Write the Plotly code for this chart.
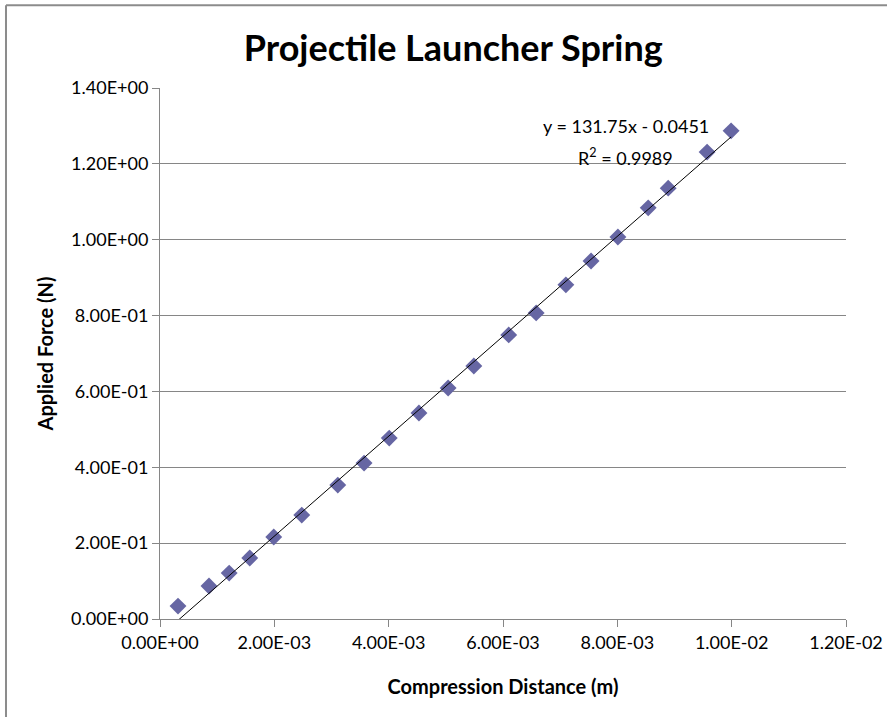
import plotly.graph_objects as go

# Data
compression_m = [0.000315, 0.000857, 0.00121, 0.00157, 0.00199, 0.00248, 0.00311,
                 0.00357, 0.00401, 0.00453, 0.00504, 0.00549, 0.00610, 0.00658,
                 0.00710, 0.00754, 0.00801, 0.00854, 0.00889, 0.00957, 0.00999]
force_n = [0.034, 0.087, 0.121, 0.161, 0.216, 0.274, 0.353, 0.411, 0.477, 0.543,
           0.609, 0.667, 0.749, 0.807, 0.881, 0.944, 1.007, 1.084, 1.136, 1.231, 1.287]

slope = 131.75
intercept = -0.0451
r_squared = 0.9989

x_ticks = [0, 0.002, 0.004, 0.006, 0.008, 0.010, 0.012]
x_tick_labels = ["0.00E+00", "2.00E-03", "4.00E-03", "6.00E-03", "8.00E-03", "1.00E-02", "1.20E-02"]
y_ticks = [0, 0.2, 0.4, 0.6, 0.8, 1.0, 1.2, 1.4]
y_tick_labels = ["0.00E+00", "2.00E-01", "4.00E-01", "6.00E-01", "8.00E-01", "1.00E+00", "1.20E+00", "1.40E+00"]

trend_x = [min(compression_m), max(compression_m)]
trend_y = [slope * v + intercept for v in trend_x]

FONT = "Lato"
GRAY = "#868686"

fig = go.Figure()
fig.add_trace(go.Scatter(
    x=compression_m, y=force_n, mode="markers",
    marker=dict(symbol="diamond", size=13, color="rgb(102,102,163)",
                line=dict(width=0)),
    showlegend=False, hoverinfo="x+y"))
fig.add_trace(go.Scatter(
    x=trend_x, y=trend_y, mode="lines",
    line=dict(color="black", width=1), showlegend=False, hoverinfo="skip"))

fig.update_layout(
    width=887, height=717,
    margin=dict(l=160, r=41, t=88, b=98),
    paper_bgcolor="white", plot_bgcolor="white",
    font=dict(family=FONT, size=18, color="black"),
    title=dict(text="<b>Projectile Launcher Spring</b>", x=0.511, xanchor="center",
               y=0.933, yanchor="middle", font=dict(family=FONT, size=36, color="black")),
    xaxis=dict(range=[0, 0.012], tickvals=x_ticks, ticktext=x_tick_labels,
               showgrid=False, zeroline=False, showline=True, linecolor=GRAY, linewidth=1,
               ticks="outside", ticklen=7, tickcolor=GRAY, automargin=False,
               tickfont=dict(family=FONT, size=18),
               title=dict(text="<b>Compression Distance (m)</b>", standoff=28,
                          font=dict(family=FONT, size=20))),
    yaxis=dict(range=[0, 1.4], tickvals=y_ticks, ticktext=y_tick_labels,
               showgrid=True, gridcolor=GRAY, gridwidth=1, zeroline=False,
               showline=True, linecolor=GRAY, linewidth=1, automargin=False,
               ticks="outside", ticklen=7, tickcolor=GRAY,
               tickfont=dict(family=FONT, size=18),
               title=dict(text="<b>Applied Force (N)</b>", standoff=12,
                          font=dict(family=FONT, size=20))),
    annotations=[
        dict(x=0.00815, y=1.300, xref="x", yref="y", showarrow=False,
             text=f"y = {slope}x - {abs(intercept)}",
             font=dict(family=FONT, size=18), xanchor="center", yanchor="middle"),
        dict(x=0.00815, y=1.218, xref="x", yref="y", showarrow=False,
             text=f"R<sup>2</sup> = {r_squared}",
             font=dict(family=FONT, size=18), xanchor="center", yanchor="middle"),
    ],
    shapes=[
        dict(type="line", xref="paper", yref="paper",
             x0=-0.2245, x1=1.06, y0=1.156, y1=1.156,
             line=dict(color="#8c8c8c", width=2)),
        dict(type="line", xref="paper", yref="paper",
             x0=-0.2245, x1=-0.2245, y0=1.156, y1=-0.2,
             line=dict(color="#8c8c8c", width=2)),
    ],
)

fig.write_html("out.html", config={"displayModeBar": False},
               post_script="document.body.style.margin='0';")
